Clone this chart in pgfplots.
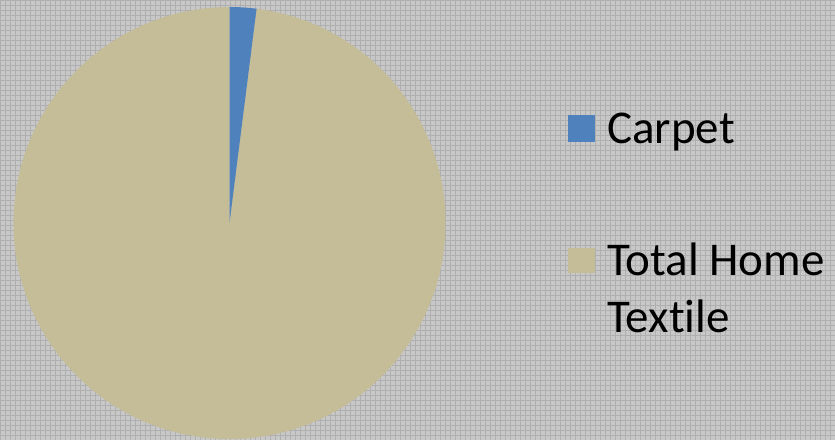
\documentclass[border=0pt]{standalone}
\usepackage{fontspec}
\setmainfont{Carlito}[Ligatures={NoCommon}]
\usepackage{pgfplots}
\usepackage{pgfplotstable}
\pgfplotsset{compat=1.18}

\definecolor{carpetblue}{HTML}{4F81BD}
\definecolor{textiletan}{HTML}{C4BD97}
\definecolor{bggray}{HTML}{C8C8C8}
\definecolor{bgline}{HTML}{AFAFAF}

\pgfplotstableread{
label value
Carpet 2
Textile 98
}\piedata

\begin{document}
\begin{tikzpicture}
	\fill[bggray] (0,0) rectangle (835bp,440bp);
	\draw[bgline, line width=0.6bp, step=5bp] (0,0) grid (835bp,440bp);
	\begin{axis}[
	scale only axis,
	width=835bp,
	height=440bp,
	xmin=0, xmax=835,
	ymin=0, ymax=440,
	hide axis,
	clip=false,
	]
	\pgfplotstablegetelem{0}{value}\of\piedata
	\pgfmathsetmacro{\va}{\pgfplotsretval}
	\pgfplotstablegetelem{1}{value}\of\piedata
	\pgfmathsetmacro{\vb}{\pgfplotsretval}
	\pgfmathsetmacro{\tot}{\va+\vb}
	\pgfmathsetmacro{\angA}{90-360*\va/\tot}
	% slices, clockwise from 12 o'clock
	\fill[textiletan] (axis cs:229.5,217) -- ++(\angA:216bp) arc[start angle=\angA, end angle=-270, radius=216bp] -- cycle;
	\fill[carpetblue] (axis cs:229.5,217) -- ++(90:216bp) arc[start angle=90, end angle=\angA, radius=216bp] -- cycle;
	% legend
	\fill[carpetblue] (axis cs:568,298) rectangle (axis cs:595,325);
	\fill[textiletan] (axis cs:568,167) rectangle (axis cs:595,192);
	\node[anchor=base west, inner sep=0pt, font=\fontsize{47bp}{57bp}\selectfont] at (axis cs:607,297) {Carpet};
	\node[anchor=base west, inner sep=0pt, font=\fontsize{47bp}{57bp}\selectfont] at (axis cs:607,165) {Total Home};
	\node[anchor=base west, inner sep=0pt, font=\fontsize{47bp}{57bp}\selectfont] at (axis cs:607,108) {Textile};
	\end{axis}
	\pgfresetboundingbox
	\useasboundingbox (0,0) rectangle (835bp,440bp);
\end{tikzpicture}
\end{document}
